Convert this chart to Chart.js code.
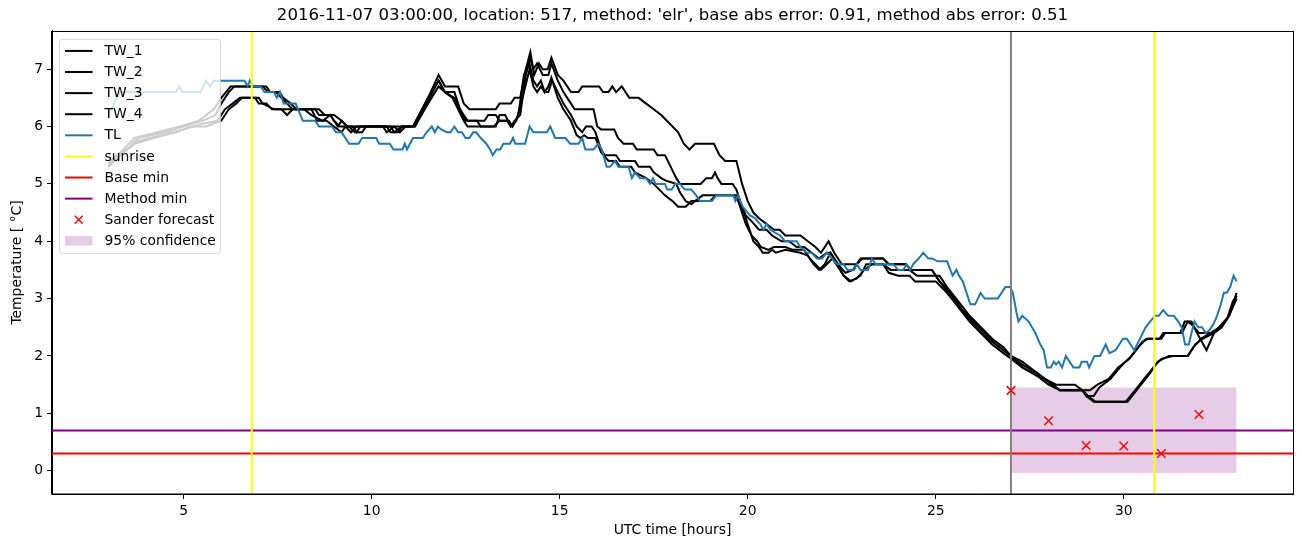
<!DOCTYPE html>
<html>
<head>
<meta charset="utf-8">
<script src="https://cdn.jsdelivr.net/npm/chart.js@4.4.1/dist/chart.umd.min.js"></script>
<style>
  html, body { margin: 0; padding: 0; background: #fff; }
  canvas { display: block; }
</style>
</head>
<body>
<canvas id="c" width="1302" height="547"></canvas>
<script>
// ---------------- data (hours UTC, temperature °C) ----------------
const titleText = "2016-11-07 03:00:00, location: 517, method: 'elr', base abs error: 0.91, method abs error: 0.51";
const xTicks = [5, 10, 15, 20, 25, 30];
const yTicks = [0, 1, 2, 3, 4, 5, 6, 7];
const xRange = [1.5, 34.5];
const yRange = [-0.407, 7.667];

const tw1 = [[3.0,5.35],[3.2,5.5],[3.5,5.6],[3.8,5.8],[4.5,5.9],[5.0,6.0],[5.5,6.1],[5.85,6.2],[6.0,6.4],[6.2,6.6],[6.35,6.7],[7.1,6.7],[7.25,6.6],[7.45,6.6],[7.6,6.5],[7.75,6.4],[7.9,6.3],[8.6,6.3],[8.75,6.2],[9.0,6.2],[9.2,6.1],[9.35,6.0],[9.5,6.0],[9.6,5.9],[9.7,6.0],[11.1,6.0],[11.5,6.5],[11.78,6.9],[11.95,6.7],[12.3,6.7],[12.45,6.4],[12.6,6.3],[13.3,6.3],[13.4,6.4],[13.7,6.4],[13.8,6.5],[13.95,6.5],[14.1,7.0],[14.22,7.3],[14.32,6.9],[14.45,7.1],[14.55,7.0],[14.68,7.0],[14.78,7.2],[14.95,6.9],[15.1,6.8],[15.3,6.6],[15.5,6.6],[15.6,6.7],[16.05,6.7],[16.15,6.6],[16.3,6.6],[16.4,6.7],[16.5,6.6],[16.65,6.7],[16.85,6.5],[17.1,6.5],[17.3,6.4],[17.5,6.3],[17.7,6.2],[17.85,6.1],[18.0,6.0],[18.15,5.9],[18.3,5.7],[18.45,5.6],[18.6,5.7],[19.1,5.7],[19.25,5.5],[19.4,5.4],[19.7,5.4],[19.85,5.0],[20.0,4.7],[20.15,4.5],[20.3,4.4],[20.5,4.3],[20.7,4.2],[20.85,4.2],[21.0,4.1],[21.4,4.1],[21.6,4.0],[21.8,3.9],[21.95,3.8],[22.15,4.0],[22.3,3.8],[22.5,3.6],[22.9,3.6],[23.05,3.7],[23.6,3.7],[23.75,3.6],[24.2,3.6],[24.35,3.5],[24.9,3.5],[25.1,3.3],[25.4,3.05],[25.7,2.8],[26.0,2.55],[26.3,2.35],[26.6,2.2],[27.0,2.0],[27.3,1.9],[27.6,1.75],[27.9,1.6],[28.1,1.5],[28.3,1.4],[29.1,1.4],[29.3,1.5],[29.6,1.6],[29.85,1.8],[30.15,1.95],[30.45,2.2],[30.6,2.3],[30.95,2.3],[31.05,2.4],[31.5,2.4],[31.62,2.6],[31.8,2.6],[31.95,2.4],[32.2,2.1],[32.4,2.4],[32.6,2.5],[32.8,2.7],[33.0,3.1]];

const tw2 = [[3.0,5.35],[3.4,5.6],[3.7,5.8],[4.3,5.9],[4.9,6.0],[5.4,6.1],[5.8,6.3],[6.0,6.5],[6.25,6.7],[7.2,6.7],[7.3,6.6],[7.55,6.6],[7.65,6.5],[7.85,6.4],[8.0,6.3],[8.5,6.3],[8.6,6.2],[8.9,6.2],[9.1,6.0],[9.2,6.1],[9.35,6.0],[10.5,6.0],[10.6,5.9],[10.8,6.0],[11.1,6.0],[11.5,6.5],[11.78,6.8],[11.95,6.6],[12.2,6.6],[12.35,6.3],[12.5,6.1],[12.8,6.1],[12.9,6.0],[13.25,6.0],[13.4,6.1],[13.6,6.1],[13.7,6.0],[13.8,6.1],[13.95,6.2],[14.1,6.9],[14.22,7.2],[14.3,7.0],[14.4,7.1],[14.55,6.9],[14.7,6.9],[14.78,7.1],[14.95,6.8],[15.1,6.6],[15.3,6.4],[15.4,6.3],[15.9,6.3],[16.0,6.0],[16.1,5.95],[16.45,5.95],[16.55,5.8],[16.7,5.7],[16.95,5.7],[17.05,5.6],[17.5,5.6],[17.6,5.5],[17.8,5.5],[17.95,5.3],[18.1,5.1],[18.2,5.0],[18.75,5.0],[18.9,5.1],[19.05,5.1],[19.13,5.2],[19.2,5.1],[19.3,5.0],[19.6,5.0],[19.7,4.9],[19.85,4.6],[19.95,4.45],[20.1,4.35],[20.3,4.2],[20.5,4.2],[20.65,4.1],[20.9,4.0],[21.1,4.0],[21.3,3.9],[21.5,3.9],[21.7,3.8],[21.9,3.7],[22.1,3.8],[22.2,3.8],[22.4,3.6],[22.6,3.45],[22.8,3.5],[23.0,3.7],[23.6,3.7],[23.75,3.6],[24.2,3.6],[24.35,3.5],[24.9,3.5],[25.1,3.3],[25.4,3.1],[25.7,2.8],[26.0,2.6],[26.3,2.4],[26.6,2.2],[27.0,2.0],[27.3,1.8],[27.6,1.7],[27.9,1.6],[28.2,1.5],[28.7,1.5],[28.9,1.4],[29.05,1.3],[29.2,1.3],[29.35,1.45],[29.65,1.6],[29.9,1.8],[30.2,2.0],[30.5,2.25],[30.65,2.3],[31.0,2.3],[31.1,2.4],[31.55,2.4],[31.7,2.6],[31.8,2.55],[32.0,2.4],[32.4,2.4],[32.6,2.55],[32.8,2.7],[33.0,3.0]];

const tw3 = [[3.0,5.3],[3.4,5.55],[3.8,5.75],[4.4,5.85],[5.0,5.95],[5.5,6.05],[5.9,6.1],[6.1,6.3],[6.3,6.4],[6.5,6.5],[6.9,6.5],[7.0,6.4],[7.2,6.4],[7.35,6.3],[8.2,6.3],[8.4,6.2],[8.7,6.1],[8.9,6.2],[9.0,6.1],[9.15,6.0],[9.4,6.0],[9.55,5.9],[9.75,5.9],[9.85,6.0],[10.4,6.0],[10.5,5.9],[10.7,5.9],[10.8,6.0],[11.15,6.0],[11.5,6.4],[11.78,6.7],[11.95,6.6],[12.15,6.5],[12.3,6.3],[12.45,6.1],[12.55,6.0],[13.3,6.0],[13.4,6.2],[13.55,6.2],[13.7,6.0],[13.85,6.1],[14.05,6.6],[14.2,7.0],[14.3,6.7],[14.4,6.6],[14.5,6.7],[14.6,6.6],[14.7,6.6],[14.8,6.8],[14.95,6.6],[15.1,6.4],[15.3,6.2],[15.45,6.0],[15.6,5.9],[15.7,6.0],[15.85,6.0],[15.95,5.9],[16.1,5.6],[16.2,5.5],[16.5,5.5],[16.6,5.4],[17.0,5.4],[17.1,5.3],[17.4,5.3],[17.5,5.2],[17.7,5.1],[17.85,5.05],[18.1,5.0],[18.2,4.85],[18.35,4.7],[18.5,4.65],[18.8,4.8],[19.6,4.8],[19.75,4.7],[19.9,4.5],[20.05,4.2],[20.15,4.0],[20.3,3.9],[20.4,3.8],[20.55,3.8],[20.65,3.85],[20.75,3.8],[21.0,3.85],[21.4,3.8],[21.6,3.75],[21.75,3.6],[21.9,3.5],[22.05,3.6],[22.2,3.8],[22.4,3.6],[22.55,3.4],[22.7,3.3],[22.9,3.35],[23.1,3.5],[23.3,3.6],[23.6,3.6],[23.8,3.5],[24.3,3.5],[24.5,3.4],[25.1,3.4],[25.3,3.2],[25.6,2.95],[25.9,2.7],[26.2,2.5],[26.5,2.3],[26.8,2.15],[27.0,2.0],[27.3,1.85],[27.7,1.7],[28.0,1.55],[28.3,1.4],[28.9,1.4],[29.0,1.3],[29.2,1.2],[30.1,1.2],[30.4,1.45],[30.7,1.7],[30.9,1.9],[31.2,2.0],[31.7,2.0],[31.85,2.15],[32.05,2.3],[32.3,2.4],[32.55,2.5],[32.75,2.65],[32.9,2.95],[33.0,3.05]];

const tw4 = [[3.0,5.3],[3.3,5.5],[3.7,5.7],[4.2,5.8],[4.8,5.9],[5.2,6.0],[5.6,6.0],[6.0,6.1],[6.2,6.3],[6.4,6.4],[6.55,6.5],[7.0,6.5],[7.1,6.4],[7.4,6.3],[7.6,6.3],[7.75,6.2],[7.9,6.3],[8.4,6.3],[8.55,6.1],[8.8,6.1],[9.0,6.0],[9.2,5.9],[9.3,6.0],[9.45,5.9],[9.6,6.0],[10.3,6.0],[10.4,5.9],[10.6,6.0],[10.75,5.9],[10.9,6.0],[11.15,6.0],[11.5,6.45],[11.78,6.8],[11.95,6.6],[12.2,6.5],[12.35,6.3],[12.55,6.1],[13.0,6.1],[13.1,6.2],[13.3,6.2],[13.4,6.1],[13.65,6.1],[13.75,6.0],[13.9,6.2],[14.05,6.9],[14.2,7.1],[14.3,6.8],[14.4,6.7],[14.5,6.8],[14.6,6.6],[14.7,6.7],[14.78,6.85],[14.95,6.5],[15.1,6.3],[15.3,6.1],[15.45,5.85],[15.55,5.8],[15.65,5.85],[15.75,5.8],[15.95,5.8],[16.1,5.55],[16.3,5.4],[16.5,5.4],[16.6,5.3],[16.9,5.3],[17.0,5.2],[17.3,5.1],[17.5,5.0],[17.65,4.9],[17.8,4.8],[18.0,4.7],[18.15,4.6],[18.35,4.6],[18.5,4.7],[19.0,4.7],[19.15,4.8],[19.7,4.8],[19.8,4.6],[19.95,4.3],[20.1,4.1],[20.25,4.0],[20.35,3.9],[20.55,3.85],[20.7,3.9],[21.0,3.9],[21.2,3.85],[21.5,3.85],[21.65,3.7],[21.8,3.6],[21.95,3.5],[22.1,3.6],[22.25,3.7],[22.4,3.55],[22.55,3.4],[22.75,3.3],[23.0,3.4],[23.15,3.6],[23.6,3.6],[23.75,3.45],[24.0,3.4],[24.3,3.4],[24.45,3.3],[25.0,3.3],[25.3,3.1],[25.6,2.85],[25.9,2.6],[26.2,2.4],[26.5,2.2],[26.8,2.05],[27.0,1.95],[27.3,1.8],[27.7,1.65],[28.0,1.5],[28.3,1.4],[28.9,1.4],[29.05,1.3],[29.25,1.2],[30.05,1.2],[30.3,1.4],[30.6,1.65],[30.85,1.85],[31.0,1.95],[31.3,2.0],[31.7,2.0],[31.9,2.2],[32.1,2.3],[32.4,2.4],[32.6,2.5],[32.8,2.7],[33.0,3.05]];

const tl = [[3.0,6.2],[3.15,6.4],[3.3,6.6],[4.8,6.6],[4.88,6.7],[4.97,6.6],[5.45,6.6],[5.6,6.8],[5.7,6.7],[5.8,6.8],[6.62,6.8],[6.7,6.7],[6.76,6.8],[6.85,6.7],[7.05,6.7],[7.15,6.6],[7.4,6.6],[7.48,6.5],[7.56,6.6],[7.66,6.4],[7.98,6.4],[8.17,6.1],[8.5,6.1],[8.6,6.0],[8.95,6.0],[9.05,5.9],[9.2,5.9],[9.3,5.8],[9.4,5.7],[9.65,5.7],[9.75,5.8],[10.12,5.8],[10.2,5.7],[10.48,5.7],[10.58,5.6],[10.82,5.6],[10.88,5.7],[10.94,5.6],[11.02,5.7],[11.1,5.8],[11.36,5.8],[11.46,5.9],[11.6,6.0],[11.68,5.9],[11.76,6.0],[11.85,5.95],[12.0,5.9],[12.1,5.9],[12.2,6.0],[12.3,5.9],[12.4,5.9],[12.5,5.8],[12.6,5.8],[12.7,5.9],[12.78,5.9],[12.9,5.8],[13.05,5.7],[13.15,5.6],[13.22,5.5],[13.32,5.6],[13.42,5.6],[13.5,5.7],[13.68,5.7],[13.76,5.8],[13.82,5.7],[14.08,5.7],[14.2,6.0],[14.3,5.9],[14.66,5.9],[14.75,6.0],[14.88,5.8],[15.15,5.8],[15.28,5.7],[15.5,5.7],[15.6,5.8],[15.68,5.6],[15.9,5.6],[16.03,5.7],[16.12,5.6],[16.25,5.3],[16.34,5.3],[16.47,5.4],[16.56,5.3],[16.83,5.3],[16.92,5.1],[17.0,5.2],[17.14,5.1],[17.3,5.1],[17.4,5.0],[17.48,5.1],[17.55,5.0],[17.8,5.0],[17.86,4.9],[17.98,4.9],[18.07,5.0],[18.2,5.0],[18.33,4.9],[18.5,4.9],[18.63,4.8],[18.73,4.7],[19.05,4.7],[19.17,4.8],[19.62,4.8],[19.67,4.7],[19.74,4.8],[19.87,4.6],[20.06,4.45],[20.2,4.4],[20.33,4.3],[20.42,4.2],[20.5,4.3],[20.6,4.2],[20.86,4.1],[20.99,4.0],[21.3,4.0],[21.4,3.9],[21.57,3.8],[21.7,3.8],[21.84,3.7],[21.98,3.7],[22.1,3.8],[22.24,3.7],[22.37,3.6],[22.55,3.6],[22.65,3.5],[22.83,3.5],[22.9,3.6],[23.0,3.5],[23.2,3.5],[23.3,3.7],[23.4,3.6],[23.87,3.6],[24.0,3.5],[24.14,3.5],[24.22,3.6],[24.32,3.5],[24.4,3.6],[24.55,3.7],[24.67,3.8],[24.8,3.7],[24.9,3.7],[25.05,3.65],[25.3,3.65],[25.45,3.4],[25.55,3.5],[25.62,3.4],[25.72,3.3],[25.92,2.9],[26.05,2.9],[26.19,3.1],[26.3,3.0],[26.65,3.0],[26.75,3.1],[26.85,3.2],[26.98,3.2],[27.05,3.1],[27.15,2.75],[27.2,2.6],[27.3,2.7],[27.47,2.6],[27.65,2.4],[27.78,2.2],[27.87,2.1],[27.96,1.8],[28.06,1.8],[28.14,1.9],[28.2,1.85],[28.27,1.9],[28.36,1.8],[28.46,2.0],[28.56,1.9],[28.66,1.8],[28.82,1.8],[28.88,1.9],[29.02,1.9],[29.08,1.8],[29.22,2.0],[29.37,2.0],[29.52,2.2],[29.62,2.05],[29.78,2.1],[29.98,2.3],[30.08,2.3],[30.18,2.2],[30.28,2.1],[30.43,2.3],[30.58,2.5],[30.7,2.6],[30.83,2.7],[30.93,2.7],[31.05,2.8],[31.18,2.7],[31.33,2.7],[31.45,2.6],[31.54,2.5],[31.63,2.2],[31.73,2.2],[31.8,2.4],[31.88,2.6],[31.98,2.5],[32.08,2.5],[32.18,2.4],[32.28,2.45],[32.38,2.55],[32.48,2.7],[32.58,2.9],[32.66,3.1],[32.74,3.1],[32.83,3.2],[32.92,3.4],[33.0,3.3]];

const sunriseHours = [6.81, 30.81];
const forecastStart = 27.0;
const baseMin = 0.30;
const methodMin = 0.70;
const sanderHours = [27, 28, 29, 30, 31, 32];
const sanderTemps = [1.40, 0.87, 0.44, 0.43, 0.30, 0.98];
const confidence = { from: 27.0, to: 33.0, low: -0.04, high: 1.45 };

// ---------------- helpers ----------------
const pts = arr => arr.map(([x, y]) => ({ x, y }));
const vlines = xs => {
  const out = [];
  xs.forEach((x, i) => {
    if (i > 0) out.push({ x, y: null });
    out.push({ x, y: yRange[0] }, { x, y: yRange[1] });
  });
  return out;
};
const FONT = "'DejaVu Sans', 'Liberation Sans', sans-serif";

const datasets = [
  { label: 'Sander forecast', data: sanderHours.map((h, i) => ({ x: h, y: sanderTemps[i] })),
    showLine: false, pointStyle: 'crossRot', pointRadius: 6, pointBorderWidth: 1.5,
    borderColor: 'red', backgroundColor: 'red', order: 0, legendType: 'marker' },
  { label: 'TL', data: pts(tl), borderColor: '#1f77b4', borderWidth: 2, order: 2, legendType: 'line' },
  { label: 'TW_4', data: pts(tw4), borderColor: '#000', borderWidth: 2, order: 3, legendType: 'line' },
  { label: 'TW_3', data: pts(tw3), borderColor: '#000', borderWidth: 2, order: 4, legendType: 'line' },
  { label: 'TW_2', data: pts(tw2), borderColor: '#000', borderWidth: 2, order: 5, legendType: 'line' },
  { label: 'TW_1', data: pts(tw1), borderColor: '#000', borderWidth: 2, order: 6, legendType: 'line' },
  { label: 'sunrise', data: vlines(sunriseHours), borderColor: '#ffff00', borderWidth: 2, spanGaps: false, order: 1, legendType: 'line' },
  { label: 'Base min', data: [{ x: xRange[0], y: baseMin }, { x: xRange[1], y: baseMin }], borderColor: 'red', borderWidth: 2, order: 7, legendType: 'line' },
  { label: 'Method min', data: [{ x: xRange[0], y: methodMin }, { x: xRange[1], y: methodMin }], borderColor: 'purple', borderWidth: 2, order: 8, legendType: 'line' },
  { label: 'forecast start', data: vlines([forecastStart]), borderColor: 'gray', borderWidth: 2, order: 1.5 },
  { label: '95% confidence', data: [{ x: confidence.from, y: confidence.high }, { x: confidence.to, y: confidence.high }],
    borderWidth: 0, borderColor: 'rgba(0,0,0,0)', backgroundColor: 'rgba(128,0,128,0.2)',
    fill: { value: confidence.low }, order: 9, legendType: 'patch' }
];
datasets.forEach(d => { d.pointRadius = d.pointRadius ?? 0; d.tension = 0; });

const legendOrder = ['TW_1', 'TW_2', 'TW_3', 'TW_4', 'TL', 'sunrise', 'Base min', 'Method min', 'Sander forecast', '95% confidence'];

const boxPlugin = {
  id: 'frame',
  afterDatasetsDraw(chart) {
    const { ctx, chartArea: a } = chart;
    ctx.save();
    ctx.strokeStyle = '#000';
    ctx.lineWidth = 1;
    ctx.strokeRect(Math.round(a.left) - 0.5, Math.round(a.top) + 0.5, Math.round(a.right - a.left) + 1, Math.round(a.bottom - a.top) - 0.5);
    ctx.restore();
  }
};

const legendPlugin = {
  id: 'innerLegend',
  afterDraw(chart) {
    const { ctx, chartArea: a } = chart;
    const x0 = a.left + 7.5, y0 = a.top + 8.5, w = 161, h = 214;
    ctx.save();
    ctx.beginPath();
    ctx.roundRect(x0, y0, w, h, 3);
    ctx.fillStyle = 'rgba(255,255,255,0.8)';
    ctx.fill();
    ctx.strokeStyle = 'rgba(204,204,204,0.8)';
    ctx.lineWidth = 1;
    ctx.stroke();
    ctx.font = '13.9px ' + FONT;
    ctx.textBaseline = 'middle';
    ctx.fillStyle = '#000';
    legendOrder.forEach((name, i) => {
      const ds = chart.data.datasets.find(d => d.label === name);
      const y = y0 + 11.5 + i * 21.1;
      const lx0 = x0 + 5.5, lx1 = x0 + 33;
      if (ds.legendType === 'line') {
        ctx.beginPath();
        ctx.moveTo(lx0, y); ctx.lineTo(lx1, y);
        ctx.strokeStyle = ds.borderColor; ctx.lineWidth = 2; ctx.stroke();
      } else if (ds.legendType === 'marker') {
        const cx = (lx0 + lx1) / 2, r = 4;
        ctx.beginPath();
        ctx.moveTo(cx - r, y - r); ctx.lineTo(cx + r, y + r);
        ctx.moveTo(cx - r, y + r); ctx.lineTo(cx + r, y - r);
        ctx.strokeStyle = ds.borderColor; ctx.lineWidth = 1.5; ctx.stroke();
      } else if (ds.legendType === 'patch') {
        ctx.fillStyle = ds.backgroundColor;
        ctx.fillRect(lx0, y - 4.8, lx1 - lx0, 9.6);
      }
      ctx.fillStyle = '#000';
      ctx.fillText(ds.label, x0 + 45, y + 0.5);
    });
    ctx.restore();
  }
};

new Chart(document.getElementById('c'), {
  type: 'line',
  data: { datasets },
  plugins: [boxPlugin, legendPlugin],
  options: {
    responsive: false,
    animation: false,
    devicePixelRatio: 1,
    layout: { padding: { left: 0, right: 9, top: 0, bottom: 0 } },
    plugins: {
      legend: { display: false },
      tooltip: { enabled: false },
      title: {
        display: true, text: titleText, color: '#000', fullSize: false,
        font: { family: FONT, size: 16.6, weight: 'normal' },
        padding: { top: 6, bottom: 5 }
      }
    },
    scales: {
      x: {
        type: 'linear', min: xRange[0], max: xRange[1],
        afterBuildTicks: s => { s.ticks = xTicks.map(v => ({ value: v })); },
        afterFit: s => { s.height = 53; },
        ticks: { color: '#000', font: { family: FONT, size: 13.9 }, padding: 4, maxRotation: 0, autoSkip: false },
        grid: { display: true, drawOnChartArea: false, drawTicks: true, tickLength: 5, color: '#000', tickWidth: 1 },
        border: { display: true, color: '#000', width: 1 },
        title: { display: true, text: 'UTC time [hours]', color: '#000', font: { family: FONT, size: 13.9 }, padding: { top: 0, bottom: 8 } }
      },
      y: {
        type: 'linear', min: yRange[0], max: yRange[1],
        afterBuildTicks: s => { s.ticks = yTicks.map(v => ({ value: v })); },
        afterFit: s => { s.width = 52; },
        ticks: { color: '#000', font: { family: FONT, size: 13.9 }, padding: 4, autoSkip: false },
        grid: { display: true, drawOnChartArea: false, drawTicks: true, tickLength: 5, color: '#000', tickWidth: 1 },
        border: { display: true, color: '#000', width: 1 },
        title: { display: true, text: 'Temperature [ °C]', color: '#000', font: { family: FONT, size: 13.9 }, padding: { top: 9, bottom: 0 } }
      }
    }
  }
});
</script>
</body>
</html>
